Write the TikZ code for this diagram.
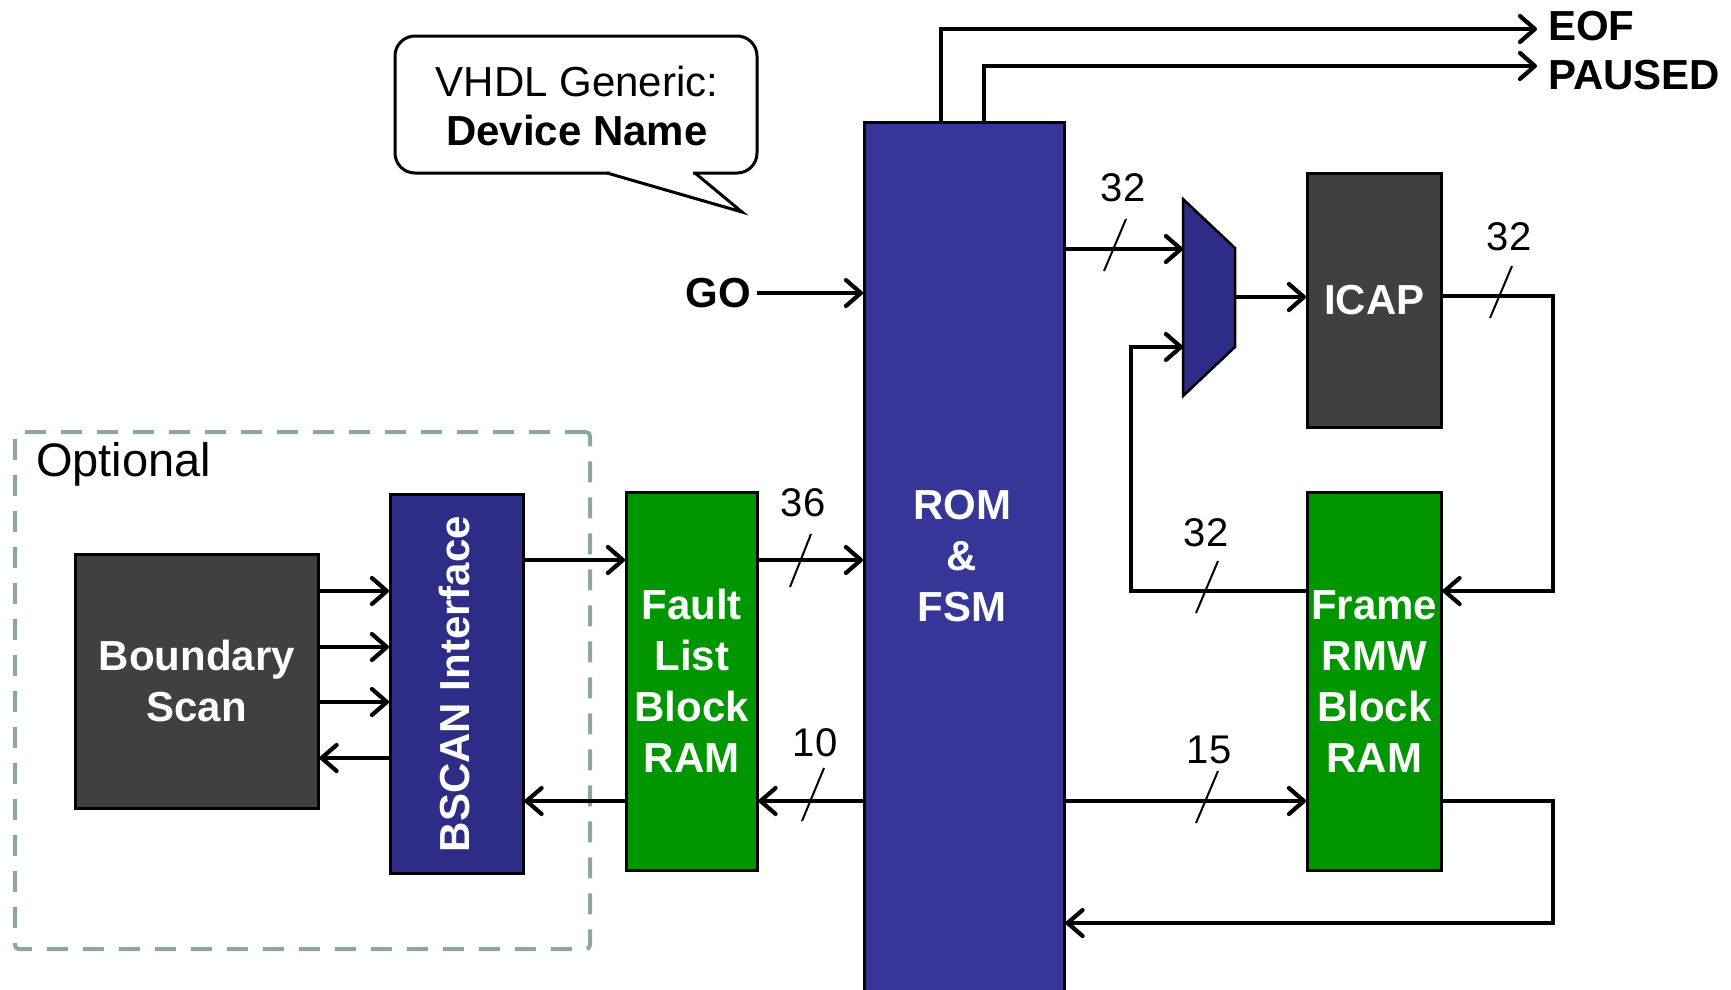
\documentclass[tikz,border=0pt]{standalone}
\usepackage{fontspec}
\setmainfont{Liberation Sans}
\usetikzlibrary{arrows.meta,calc}
\definecolor{romblue}{RGB}{54,54,153}
\definecolor{navy}{RGB}{45,45,135}
\definecolor{bgreen}{RGB}{0,150,0}
\definecolor{dgrey}{RGB}{64,64,64}
\definecolor{dashgrey}{RGB}{140,165,165}
\begin{document}
\begin{tikzpicture}[x=1pt,y=-1pt,
  blk/.style={draw=black, line width=2.5pt, text=white, font=\bfseries\fontsize{42}{51}\selectfont, align=center, inner sep=0pt, anchor=north west},
  wire/.style={line width=4.2pt, -{Straight Barb[length=15pt,width=26pt,round]}},
  slash/.style={line width=2pt},
  num/.style={font=\fontsize{40}{48}\selectfont, inner sep=0pt},
  sig/.style={font=\bfseries\fontsize{42}{50}\selectfont, inner sep=0pt}]
\useasboundingbox (0,0) rectangle (1731,989);

% optional dashed region
\node[draw=dashgrey, line width=4pt, dash pattern=on 21pt off 15pt, rounded corners=4pt,
      minimum width=575pt, minimum height=517pt, anchor=north west, inner sep=0pt] (optbox) at (13,430) {};
\node[font=\fontsize{47}{56}\selectfont, anchor=base west, inner sep=0pt] (opt) at (36,476) {Optional};

% callout
\draw[line width=3pt, rounded corners=20pt, fill=white] (395,36) rectangle (757,173);
\fill[white] (610,168) -- (693,168) -- (693,178) -- (610,178) -- cycle;
\draw[line width=3pt, line join=miter] (607,173) -- (742,212) -- (695,173);
\node[font=\fontsize{42}{49}\selectfont, align=center, inner sep=0pt] (callout) at (577,106) {VHDL Generic:\\\textbf{Device Name}};

% blocks
\node[blk, fill=romblue, minimum width=200pt, minimum height=890pt] (rom) at (863,121) {};
\node[font=\bfseries\fontsize{42}{51}\selectfont, text=white, align=center, inner sep=0pt] (romtext) at (962,556) {ROM\\\&\\FSM};
\node[blk, fill=bgreen, minimum width=131pt, minimum height=378pt] (fault) at (625,491) {Fault\\List\\Block\\RAM};
\node[blk, fill=bgreen, minimum width=134pt, minimum height=378pt] (frame) at (1306,491) {Frame\\RMW\\Block\\RAM};
\node[blk, fill=dgrey, minimum width=134pt, minimum height=254pt] (icap) at (1306,172) {ICAP};
\node[blk, fill=navy, minimum width=133pt, minimum height=379pt] (bscan) at (389,493) {};
\node[rotate=90, text=white, font=\bfseries\fontsize{42}{51}\selectfont, inner sep=0pt] (bscantext) at (454,684) {BSCAN Interface};
\node[blk, fill=dgrey, minimum width=243pt, minimum height=254pt] (bs) at (74,553) {Boundary\\Scan};

% mux
\draw[fill=navy, line width=2.5pt, line join=miter] (1183,199) -- (1235,248) -- (1235,347) -- (1183,396) -- cycle;
\coordinate (muxin1) at (1183,249);
\coordinate (muxin2) at (1183,347);
\coordinate (muxout) at (1235,297);

% signal labels
\node[sig, anchor=east] (go) at (751,293) {GO};
\node[sig, anchor=west] (eof) at (1548,26) {EOF};
\node[sig, anchor=west] (paused) at (1548,75) {PAUSED};
\coordinate (eofend) at (1537,29);
\coordinate (pausedend) at (1537,66);

% connectors
\draw[wire] (bscan.east |- 0,560) -- (fault.west |- 0,560);
\draw[wire] (fault.east |- 0,560) -- (rom.west |- 0,560);
\draw[wire] (rom.west |- 0,801) -- (fault.east |- 0,801);
\draw[wire] (fault.west |- 0,801) -- (bscan.east |- 0,801);
\draw[wire] (bs.east |- 0,591) -- (bscan.west |- 0,591);
\draw[wire] (bs.east |- 0,647) -- (bscan.west |- 0,647);
\draw[wire] (bs.east |- 0,702) -- (bscan.west |- 0,702);
\draw[wire] (bscan.west |- 0,758) -- (bs.east |- 0,758);
\draw[wire] ([xshift=6pt]go.east) -- (rom.west |- go.east);
\draw[wire] (rom.east |- muxin1) -- (muxin1);
\draw[wire] (muxout) -- (icap.west |- muxout);
\draw[wire] (icap.east |- 0,296) -- (1553,296) -- (1553,591) -- (frame.east |- 0,591);
\draw[wire] (frame.west |- 0,591) -- (1131,591) -- (1131,347) -- (muxin2);
\draw[wire] (rom.east |- 0,801) -- (frame.west |- 0,801);
\draw[wire] (frame.east |- 0,801) -- (1553,801) -- (1553,923) -- (rom.east |- 0,923);
\draw[wire] (rom.north -| 941,0) -- (941,29) -- (eofend);
\draw[wire] (rom.north -| 984,0) -- (984,66) -- (pausedend);

% bus slashes
\draw[slash] (1104,271) -- (1126,219);
\draw[slash] (1490,318) -- (1512,266);
\draw[slash] (1196,613) -- (1218,561);
\draw[slash] (1196,823) -- (1218,771);
\draw[slash] (790,587) -- (811,534);
\draw[slash] (802,821) -- (824,768);

% bus widths
\node[num] (w1) at (1123,188) {32};
\node[num] (w2) at (1509,237) {32};
\node[num] (w3) at (1206,533) {32};
\node[num] (w4) at (1209,750) {15};
\node[num] (w5) at (803,503) {36};
\node[num] (w6) at (815,743) {10};
\end{tikzpicture}
\end{document}
